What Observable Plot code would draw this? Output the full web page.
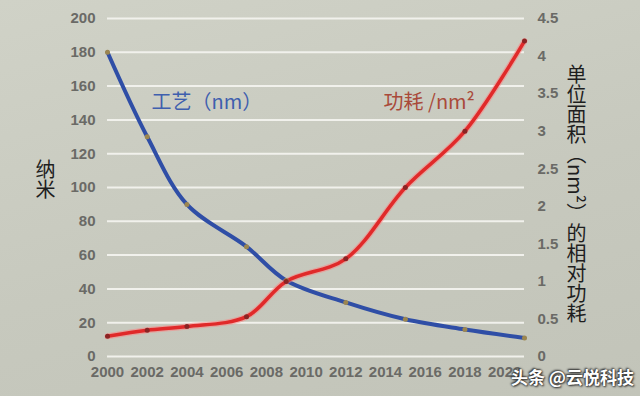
<!DOCTYPE html>
<html>
<head>
<meta charset="utf-8">
<script src="https://cdn.jsdelivr.net/npm/d3@7"></script>
<script src="https://cdn.jsdelivr.net/npm/@observablehq/plot@0.6"></script>
<style>
  html, body { margin: 0; padding: 0; }
  body { width: 640px; height: 396px; overflow: hidden;
         background: linear-gradient(165deg, #d0d2c7 0%, #c7c9be 55%, #c2c4b9 100%); }
  #wrap { position: relative; width: 640px; height: 396px; }
  #wrap svg { position: absolute; left: 0; top: 0; }
  .vt { position: absolute; writing-mode: vertical-rl; font-family: "Noto Sans CJK SC", sans-serif;
        font-size: 20px; color: #1e1e1e; line-height: 1; }
  #wm { position: absolute; left: 511px; top: 364px; font-family: "Noto Sans CJK SC", sans-serif;
        font-size: 17px; font-weight: bold; color: #fff; white-space: nowrap;
        text-shadow: 0 0 2px #333, 1px 1px 2px #333, -1px -1px 2px #333; }
</style>
</head>
<body>
<div id="wrap"></div>
<script>
// ---- data ----
const years = [2000, 2002, 2004, 2007, 2009, 2012, 2015, 2018, 2021];
const processNm = [180, 130, 90, 65, 45, 32, 22, 16, 11];
const relPower = [0.27, 0.35, 0.40, 0.53, 1.0, 1.3, 2.25, 3.0, 4.2];
const leftTicks = [0, 20, 40, 60, 80, 100, 120, 140, 160, 180, 200];
const rightTicks = [0, 0.5, 1, 1.5, 2, 2.5, 3, 3.5, 4, 4.5];
const xTicks = [2000, 2002, 2004, 2006, 2008, 2010, 2012, 2014, 2016, 2018, 2020];
const leftTitle = "纳米";
const rightTitle = "单位面积（nm²）的相对功耗";
const blueLabel = "工艺（nm）";
const redLabel = "功耗 /nm²";
const watermark = "头条 @云悦科技";

const K = 200 / 4.5; // right axis -> left axis units
const blueData = years.map((y, i) => ({year: y, v: processNm[i]}));
const redData = years.map((y, i) => ({year: y, v: relPower[i]}));

const tickStyle = {fill: "#6a6a66", fontWeight: "bold", fontSize: 15};

const chart = Plot.plot({
  width: 640, height: 396,
  marginLeft: 107, marginRight: 116, marginTop: 18, marginBottom: 40,
  style: {background: "transparent", fontFamily: "'Liberation Sans', Arial, sans-serif", fontSize: "15px", overflow: "visible"},
  x: {domain: [2000, 2021]},
  y: {domain: [0, 200]},
  marks: [
    Plot.ruleY(leftTicks, {stroke: "#f1f1ec", strokeWidth: 2}),
    Plot.axisY(leftTicks, {anchor: "left", tickSize: 0, tickPadding: 12, label: null, ...tickStyle}),
    Plot.axisY(rightTicks.map(v => v * K), {anchor: "right", tickSize: 0, tickPadding: 13, label: null,
      tickFormat: d => String(+(d / K).toFixed(2)), ...tickStyle}),
    Plot.axisX(xTicks, {tickSize: 0, tickPadding: 10, label: null, tickFormat: d => String(d), ...tickStyle}),
    Plot.line(blueData, {x: "year", y: "v", stroke: "#2f4ea6", strokeWidth: 4, curve: "catmull-rom"}),
    Plot.line(redData, {x: "year", y: d => d.v * K, stroke: "#ff8080", strokeWidth: 6, strokeOpacity: 0.5, curve: "catmull-rom"}),
    Plot.line(redData, {x: "year", y: d => d.v * K, stroke: "#e02a2a", strokeWidth: 3.5, curve: "catmull-rom"}),
    Plot.dot(blueData, {x: "year", y: "v", r: 2.5, fill: "#9c8650"}),
    Plot.dot(redData, {x: "year", y: d => d.v * K, r: 2.5, fill: "#8a2424"}),
    Plot.text([blueLabel], {x: () => 2005, y: () => 150, text: d => d, fill: "#3f5fae",
      fontSize: 20, fontFamily: "'Noto Sans CJK SC', sans-serif", textAnchor: "middle"}),
    Plot.text([redLabel], {x: () => 2016.2, y: () => 150, text: d => d, fill: "#a94a3a",
      fontSize: 20, fontFamily: "'Noto Sans CJK SC', sans-serif", textAnchor: "middle"})
  ]
});

const wrap = document.getElementById("wrap");
wrap.appendChild(chart);

const lt = document.createElement("div");
lt.className = "vt"; lt.textContent = leftTitle;
lt.style.left = "35px"; lt.style.top = "159px";
wrap.appendChild(lt);

const rt = document.createElement("div");
rt.className = "vt"; rt.textContent = rightTitle;
rt.style.left = "566px"; rt.style.top = "64px";
wrap.appendChild(rt);

const wm = document.createElement("div");
wm.id = "wm"; wm.textContent = watermark;
wrap.appendChild(wm);
</script>
</body>
</html>
